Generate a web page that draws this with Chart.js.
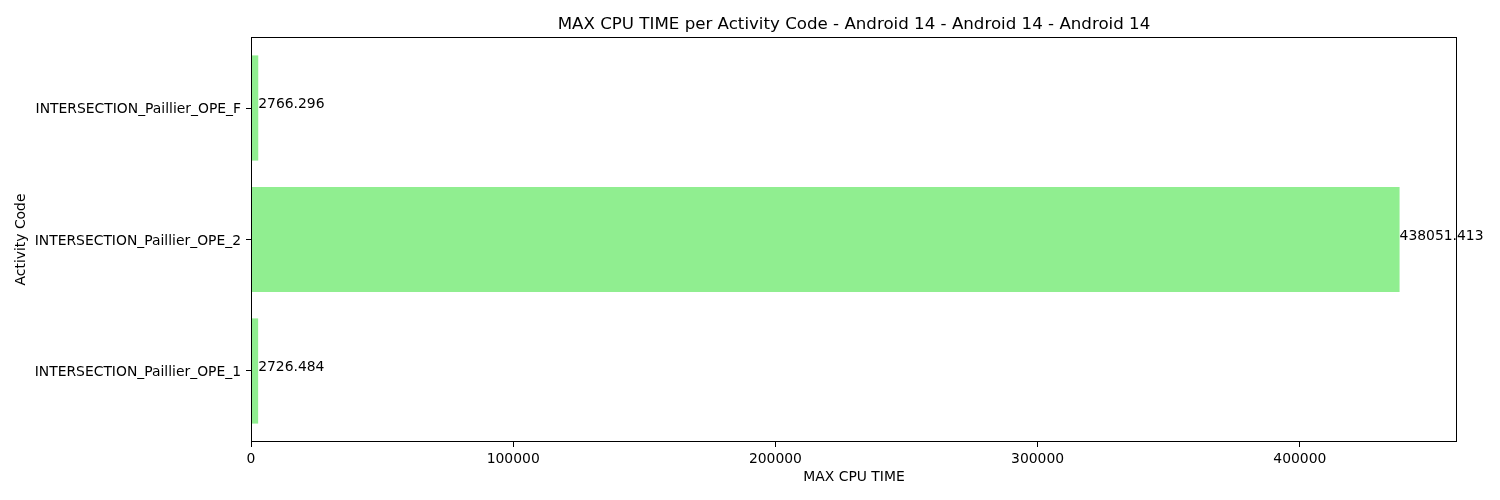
<!DOCTYPE html>
<html>
<head>
<meta charset="utf-8">
<script src="https://cdn.jsdelivr.net/npm/chart.js@4"></script>
<style>
  html, body { margin: 0; padding: 0; background: #fff; }
  #wrap { width: 1500px; height: 500px; }
</style>
</head>
<body>
<div id="wrap"><canvas id="c" width="1500" height="500"></canvas></div>
<script>
// Categories from bottom to top (matplotlib barh order)
const categories = ['INTERSECTION_Paillier_OPE_1', 'INTERSECTION_Paillier_OPE_2', 'INTERSECTION_Paillier_OPE_F'];
const maxCpuTime = [2726.484, 438051.413, 2766.296];
const valueLabels = ['2726.484', '438051.413', '2766.296'];
const xTicks = [0, 100000, 200000, 300000, 400000];
const chartTitle = 'MAX CPU TIME per Activity Code - Android 14 - Android 14 - Android 14';

const FONT = "'DejaVu Sans', sans-serif";
const xMax = Math.max(...maxCpuTime) * 1.05;

const framePlugin = {
  id: 'frame',
  afterDatasetsDraw(chart) {
    const {ctx, chartArea: a} = chart;
    ctx.save();
    ctx.strokeStyle = '#000';
    ctx.lineWidth = 1;
    ctx.strokeRect(Math.round(a.left) + 0.5, Math.round(a.top) + 0.5,
                   Math.round(a.right - a.left) - 1, Math.round(a.bottom - a.top) - 1);
    ctx.restore();
  },
  afterDraw(chart) {
    const {ctx, chartArea: a} = chart;
    const xs = chart.scales.x, ys = chart.scales.y;
    ctx.save();
    ctx.fillStyle = '#000';
    ctx.font = '13.9px ' + FONT;
    ctx.textAlign = 'left';
    ctx.textBaseline = 'alphabetic';
    maxCpuTime.forEach((v, i) => {
      ctx.fillText(valueLabels[i], xs.getPixelForValue(v), ys.getPixelForValue(i));
    });
    ctx.font = '16.67px ' + FONT;
    ctx.textAlign = 'center';
    ctx.textBaseline = 'alphabetic';
    ctx.fillText(chartTitle, (a.left + a.right) / 2, a.top - 8.3);
    ctx.restore();
  }
};

new Chart(document.getElementById('c'), {
  type: 'bar',
  data: {
    datasets: [{
      data: maxCpuTime.map((v, i) => ({x: v, y: i})),
      backgroundColor: '#90EE90',
      borderWidth: 0,
      categoryPercentage: 1,
      barPercentage: 0.8
    }]
  },
  options: {
    indexAxis: 'y',
    responsive: false,
    animation: false,
    devicePixelRatio: 1,
    layout: { padding: { left: 0, right: 43, top: 37, bottom: 0 } },
    plugins: {
      legend: { display: false },
      tooltip: { enabled: false },
      title: { display: false }
    },
    scales: {
      x: {
        type: 'linear',
        position: 'bottom',
        min: 0,
        max: xMax,
        afterFit(s) { s.height = 58; },
        afterBuildTicks(s) { s.ticks = xTicks.map(v => ({value: v})); },
        ticks: {
          color: '#000',
          font: { family: FONT, size: 13.9 },
          padding: 4,
          maxRotation: 0,
          autoSkip: false,
          callback: v => String(v)
        },
        grid: { drawOnChartArea: false, drawTicks: true, tickLength: 5, tickColor: '#000', offset: false },
        border: { display: false },
        title: {
          display: true,
          text: 'MAX CPU TIME',
          color: '#000',
          font: { family: FONT, size: 13.9, lineHeight: 1.2 },
          padding: { top: 0, bottom: 14.7 }
        }
      },
      y: {
        type: 'linear',
        position: 'left',
        min: -0.54,
        max: 2.54,
        offset: false,
        afterFit(s) { s.width = 251; },
        afterBuildTicks(s) { s.ticks = categories.map((_, i) => ({value: i})); },
        ticks: {
          color: '#000',
          font: { family: FONT, size: 13.9 },
          padding: 5,
          labelOffset: 1.5,
          autoSkip: false,
          callback: v => categories[v] ?? ''
        },
        grid: { drawOnChartArea: false, drawTicks: true, tickLength: 5, tickColor: '#000', offset: false },
        border: { display: false },
        title: {
          display: true,
          text: 'Activity Code',
          color: '#000',
          font: { family: FONT, size: 13.9, lineHeight: 1.2 },
          padding: { top: 12.7, bottom: 0 }
        }
      }
    }
  },
  plugins: [framePlugin]
});
</script>
</body>
</html>
